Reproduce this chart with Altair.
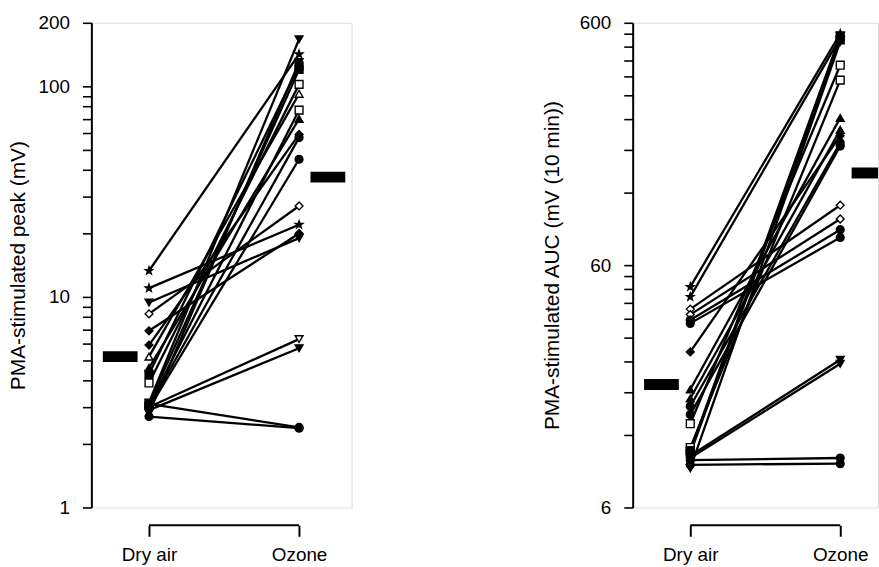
import altair as alt
import pandas as pd

# ---- data ----
peak_dry = [13.3, 11.0, 9.4, 8.3, 6.9, 5.9, 5.2, 4.6, 4.3, 3.9,
            3.15, 3.1, 3.05, 3.0, 2.95, 3.0, 2.9, 3.1, 2.7, 2.8]
peak_ozone = [142, 22, 19, 27, 20, 59, 92, 70, 125, 102,
              167, 120, 77, 57, 45, 6.3, 5.7, 2.4, 2.38, 130]
peak_marker = ["star", "star", "tri_down", "diamond", "diamond", "diamond", "tri_up", "tri_up", "square", "square",
               "tri_down", "square", "square", "circle", "circle", "tri_down", "tri_down", "circle", "circle", "tri_down"]
peak_filled = ["y", "y", "y", "n", "y", "y", "n", "y", "y", "n",
               "y", "y", "n", "y", "y", "n", "y", "y", "y", "y"]
peak_mean = [5.2, 37.0]

auc_dry = [48.8, 44.4, 39.5, 37.5, 35.6, 34.5, 26.3, 18.4, 16.9, 15.7,
           14.5, 13.3, 10.6, 10.3, 10.0, 9.8, 9.6, 9.4, 9.0, 8.7]
auc_ozone = [541, 520, 106, 93, 84, 78, 205, 243, 217, 192,
             186, 401, 348, 530, 510, 24.4, 23.5, 9.6, 9.1, 500]
auc_marker = ["star", "star", "diamond", "diamond", "circle", "circle", "diamond", "tri_up", "tri_up", "circle",
              "circle", "square", "square", "square", "square", "tri_down", "tri_down", "circle", "circle", "tri_down"]
auc_filled = ["y", "y", "n", "n", "y", "y", "y", "y", "y", "y",
              "y", "n", "n", "y", "y", "y", "y", "y", "y", "y"]
auc_mean = [19.3, 144.0]

conditions = ["Dry air", "Ozone"]
peak_ticks = [1, 2, 3, 4, 5, 6, 7, 8, 9, 10, 20, 30, 40, 50, 60, 70, 80, 90, 100, 200]
peak_labels = [1, 10, 100, 200]
auc_ticks = [6, 12, 18, 24, 30, 36, 42, 48, 54, 60, 120, 180, 240, 300, 360, 420, 480, 540, 600]
auc_labels = [6, 60, 600]

STAR = ("M0,-1L0.235,-0.324L0.951,-0.309L0.38,0.124L0.588,0.809L0,0.4L-0.588,0.809"
        "L-0.38,0.124L-0.951,-0.309L-0.235,-0.324Z")
shape_domain = ["circle", "square", "diamond", "tri_up", "tri_down", "star"]
shape_range = ["circle", "square", "diamond", "triangle-up", "triangle-down", STAR]

FONT = "Liberation Sans"


def long_df(dry, oz, marker, filled):
    rows = []
    for i in range(len(dry)):
        rows.append({"subject": i, "cond": 0, "value": dry[i], "marker": marker[i], "filled": filled[i]})
        rows.append({"subject": i, "cond": 1, "value": oz[i], "marker": marker[i], "filled": filled[i]})
    return pd.DataFrame(rows)


def panel(dry, oz, marker, filled, means, domain, ticks, labels, title, width, xmax, title_x):
    df = long_df(dry, oz, marker, filled)
    H = 488
    xscale = alt.Scale(domain=[-0.384, xmax], nice=False, zero=False)
    yscale = alt.Scale(type="log", domain=domain, nice=False)
    lab_expr = "indexof([" + ",".join(str(v) for v in labels) + "], datum.value) >= 0 ? datum.value : ''"
    xaxis = alt.Axis(values=[0, 1], labelExpr="datum.value == 0 ? 'Dry air' : 'Ozone'",
                     domain=False, grid=False, tickSize=11, tickWidth=2, tickColor="black",
                     offset=18, labelPadding=9, labelFontSize=19, labelFont=FONT,
                     labelColor="black", title=None, labelFlush=False)
    yaxis = alt.Axis(values=ticks, labelExpr=lab_expr, grid=False, tickSize=9, tickWidth=1.6,
                     tickColor="black", domainColor="black", domainWidth=2,
                     labelPadding=13, labelFontSize=19, labelFont=FONT, labelColor="black",
                     title=title, titleFont=FONT, titleFontSize=21, titleFontWeight="normal",
                     titleColor="black", titleX=title_x, titleY=H / 2, titleAngle=-90,
                     titleBaseline="middle", titleAlign="center")

    base = alt.Chart(df)
    lines = base.mark_line(color="black", strokeWidth=2.3).encode(
        x=alt.X("cond:Q", scale=xscale, axis=xaxis),
        y=alt.Y("value:Q", scale=yscale, axis=yaxis),
        detail="subject:N",
    )
    points = base.mark_point(filled=True, stroke="black", strokeWidth=1.4, size=62, opacity=1).encode(
        x=alt.X("cond:Q", scale=xscale),
        y=alt.Y("value:Q", scale=yscale),
        shape=alt.Shape("marker:N", scale=alt.Scale(domain=shape_domain, range=shape_range), legend=None),
        color=alt.Color("filled:N", scale=alt.Scale(domain=["y", "n"], range=["black", "white"]), legend=None),
    )
    mdf = pd.DataFrame({"cond": [0, 1], "mean": means})
    mean_left = alt.Chart(mdf[mdf["cond"] == 0]).mark_tick(
        orient="horizontal", size=35, thickness=11, color="black", opacity=1, xOffset=-29, clip=True
    ).encode(x=alt.X("cond:Q", scale=xscale), y=alt.Y("mean:Q", scale=yscale))
    mean_right = alt.Chart(mdf[mdf["cond"] == 1]).mark_tick(
        orient="horizontal", size=35, thickness=11, color="black", opacity=1, xOffset=29, clip=True
    ).encode(x=alt.X("cond:Q", scale=xscale), y=alt.Y("mean:Q", scale=yscale))
    bracket = alt.Chart(pd.DataFrame({"a": [0], "b": [1]})).mark_rule(color="black", strokeWidth=2).encode(
        x=alt.X("a:Q", scale=xscale), x2="b:Q", y=alt.value(H + 18)
    )
    return alt.layer(lines, points, mean_left, mean_right, bracket).properties(width=width, height=H)


left = panel(peak_dry, peak_ozone, peak_marker, peak_filled, peak_mean, [1, 200],
             peak_ticks, peak_labels, "PMA-stimulated peak (mV)", 262, 1.35, -73)
right = panel(auc_dry, auc_ozone, auc_marker, auc_filled, auc_mean, [6, 600],
              auc_ticks, auc_labels, "PMA-stimulated AUC (mV (10 min))", 247, 1.252, -81)

chart = alt.hconcat(left, right, spacing=189).properties(
    padding={"left": 7, "top": 11, "right": 0, "bottom": 0}
).configure_view(stroke=None).configure(background="white")

chart.save("out.html", embed_options={"renderer": "svg", "actions": False})
